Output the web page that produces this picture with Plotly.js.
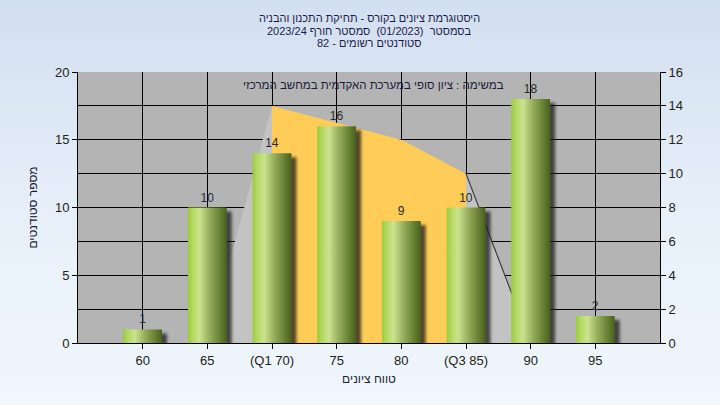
<!DOCTYPE html>
<html>
<head>
<meta charset="utf-8">
<script src="https://cdn.plot.ly/plotly-3.0.1.min.js"></script>
<style>
  html, body { margin:0; padding:0; }
  body { width:720px; height:405px; background: linear-gradient(to bottom, #d2dff0 0%, #e6eff9 50%, #f0f7fd 100%); }
  #chart { width:720px; height:405px; }
</style>
</head>
<body>
<div id="chart"></div>
<script>
// ---- data ----
const categories = ["60", "65", "(Q1 70)", "75", "80", "(Q3 85)", "90", "95"];
const counts = [1, 10, 14, 16, 9, 10, 18, 2];

// distribution curve (right axis), split into gray / yellow(Q1-Q3) / gray parts
const curveLeftX = ["65", "(Q1 70)"];
const curveLeftY = [0, 14];
const curveMidX = ["(Q1 70)", "75", "80", "(Q3 85)"];
const curveMidY = [14, 13, 12, 10];
const curveRightX = ["(Q3 85)", "90"];
const curveRightY = [10, 0];

const titleLines = [
  "היסטוגרמת ציונים בקורס - תחיקת התכנון והבניה",
  "בסמסטר  (01/2023)  סמסטר חורף 2023/24",
  "סטודנטים רשומים - 82"
];
const noteText = "במשימה : ציון סופי במערכת האקדמית במחשב המרכזי";
const xTitle = "טווח ציונים";
const yTitle = "מספר סטודנטים";

// ---- layout helpers ----
const FONT = "Liberation Sans, Arial, DejaVu Sans, sans-serif";
const marginT = 72, marginB = 62, plotH = 405 - marginT - marginB;
function paperY(px) { return (405 - marginB - px) / plotH; }

const traces = [
  {
    type: "scatter", mode: "lines", x: curveLeftX, y: curveLeftY,
    fill: "tozeroy", fillcolor: "#c3c3c3", line: { width: 0, color: "#c3c3c3" },
    xaxis: "x", yaxis: "y", hoverinfo: "skip", showlegend: false
  },
  {
    type: "scatter", mode: "lines", x: curveMidX, y: curveMidY,
    fill: "tozeroy", fillcolor: "#ffcc57", line: { width: 0, color: "#ffcc57" },
    xaxis: "x", yaxis: "y", hoverinfo: "skip", showlegend: false
  },
  {
    type: "scatter", mode: "lines", x: curveRightX, y: curveRightY,
    fill: "tozeroy", fillcolor: "#c3c3c3", line: { width: 1.2, color: "#3c3c3c" },
    xaxis: "x", yaxis: "y", hoverinfo: "skip", showlegend: false
  },
  {
    type: "bar", x: categories, y: counts, width: 0.6,
    marker: { color: "#8fb045", line: { width: 0 } },
    text: counts.map(String), textposition: "outside", cliponaxis: false,
    textfont: { family: FONT, size: 12, color: "#2a2a2a" },
    xaxis: "x", yaxis: "y2", hoverinfo: "skip", showlegend: false
  }
];

const annotations = titleLines.map((t, i) => ({
  text: t, xref: "paper", yref: "paper", x: 0.5, y: paperY([18, 31, 43][i]),
  xanchor: "center", yanchor: "middle", showarrow: false,
  font: { family: FONT, size: 11, color: "#1c1c4c" }
}));
annotations.push({
  text: noteText, xref: "paper", yref: "paper", x: (373 - 78) / 582, y: paperY(85),
  xanchor: "center", yanchor: "middle", showarrow: false,
  font: { family: FONT, size: 11.5, color: "#1c1c3c" }
});

const layout = {
  width: 720, height: 405,
  margin: { l: 78, r: 60, t: marginT, b: marginB, pad: 0 },
  paper_bgcolor: "rgba(0,0,0,0)",
  plot_bgcolor: "#b4b4b4",
  showlegend: false,
  bargap: 0.4,
  xaxis: {
    type: "category", categoryorder: "array", categoryarray: categories,
    range: [-1, 8], showgrid: true, gridcolor: "#000000", gridwidth: 1,
    showline: true, linecolor: "#000000", linewidth: 1,
    ticks: "outside", ticklen: 5, tickcolor: "#000000",
    tickfont: { family: FONT, size: 13, color: "#222222" },
    title: { text: xTitle, standoff: 8, font: { family: FONT, size: 12, color: "#1c1c3c" } },
    zeroline: false, fixedrange: true
  },
  yaxis: {
    side: "right", range: [0, 16], dtick: 2, tick0: 0,
    showgrid: true, gridcolor: "#000000", gridwidth: 1,
    showline: true, linecolor: "#000000", linewidth: 1,
    ticks: "outside", ticklen: 5, tickcolor: "#000000",
    tickfont: { family: FONT, size: 13, color: "#222222" },
    zeroline: false, fixedrange: true
  },
  yaxis2: {
    overlaying: "y", side: "left", range: [0, 20], dtick: 5, tick0: 0,
    showgrid: false, showline: true, linecolor: "#000000", linewidth: 1,
    ticks: "outside", ticklen: 5, tickcolor: "#000000",
    tickfont: { family: FONT, size: 13, color: "#222222" },
    title: { text: yTitle, standoff: 14, font: { family: FONT, size: 12, color: "#1c1c3c" } },
    zeroline: false, fixedrange: true
  },
  annotations: annotations
};

Plotly.newPlot("chart", traces, layout, { displayModeBar: false, staticPlot: true }).then(() => {
  const svgNS = "http://www.w3.org/2000/svg";
  const defs = document.querySelector("#chart .main-svg defs");
  const grad = document.createElementNS(svgNS, "linearGradient");
  grad.setAttribute("id", "barGrad");
  grad.setAttribute("x1", "0"); grad.setAttribute("x2", "1");
  grad.setAttribute("y1", "0"); grad.setAttribute("y2", "0");
  [[0, "#9ccb3a"], [0.12, "#b3d863"], [0.3, "#cbe38e"], [0.55, "#97ae5e"], [0.8, "#6a8436"], [1, "#4a601e"]]
    .forEach(([o, c]) => {
      const s = document.createElementNS(svgNS, "stop");
      s.setAttribute("offset", o); s.setAttribute("stop-color", c);
      grad.appendChild(s);
    });
  defs.appendChild(grad);
  const filt = document.createElementNS(svgNS, "filter");
  filt.setAttribute("id", "barShadow");
  filt.setAttribute("x", "-0.3"); filt.setAttribute("y", "-0.2");
  filt.setAttribute("width", "1.8"); filt.setAttribute("height", "1.5");
  const ds = document.createElementNS(svgNS, "feDropShadow");
  ds.setAttribute("dx", "5"); ds.setAttribute("dy", "4");
  ds.setAttribute("stdDeviation", "1.8");
  ds.setAttribute("flood-color", "#1e1e1e"); ds.setAttribute("flood-opacity", "0.75");
  filt.appendChild(ds);
  defs.appendChild(filt);
  document.querySelectorAll("#chart .trace.bars .point path").forEach(p => {
    p.style.fill = "url(#barGrad)";
    p.setAttribute("filter", "url(#barShadow)");
  });
});
</script>
</body>
</html>
